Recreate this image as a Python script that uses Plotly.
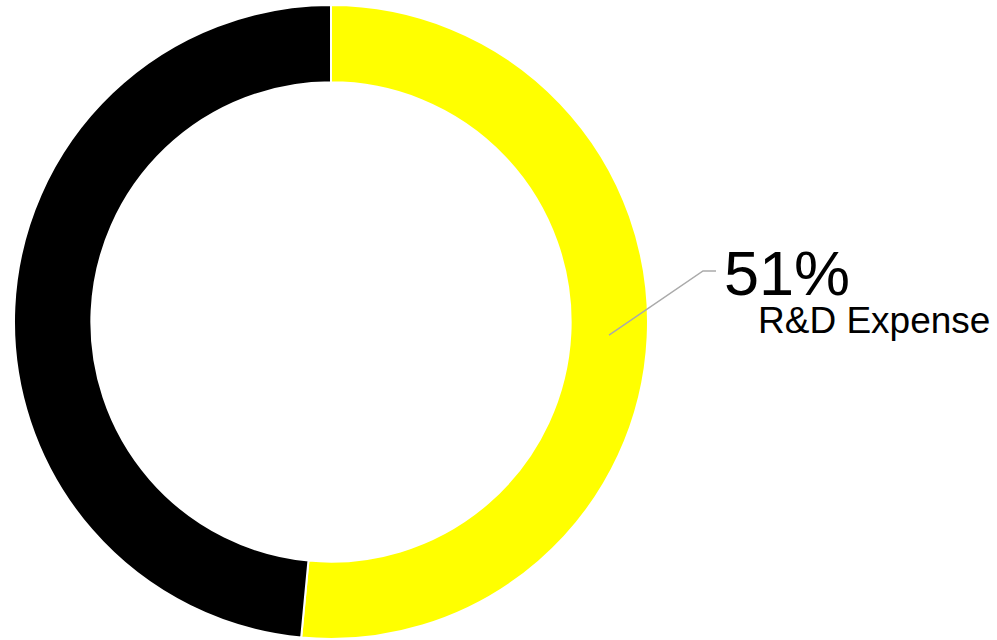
import math
import plotly.graph_objects as go

labels = ["R&D Expense", "Other"]
values = [51.5, 48.5]
colors = ["#ffff00", "#000000"]

W, H = 997, 640
MT, MB = 5, 1
PH = H - MT - MB
dom_x = [0, 662 / W]
hole = 0.756

fig = go.Figure(go.Pie(
    labels=labels, values=values, hole=hole, sort=False,
    direction="clockwise", rotation=0,
    marker=dict(colors=colors, line=dict(color="white", width=2)),
    textinfo="none", hoverinfo="label+percent", showlegend=False,
    domain=dict(x=dom_x, y=[0, 1]),
))

def px2paper(x, y):
    return x / W, 1 - (y - MT) / PH

# leader line start: mid-ring at mid angle of first slice
cx = (dom_x[0] + dom_x[1]) / 2 * W
cy = MT + PH / 2
R = min((dom_x[1] - dom_x[0]) * W, PH) / 2
frac = values[0] / sum(values)
ang = math.radians(90 - 360 * frac / 2)
rm = R * (1 + hole) / 2
sx, sy = cx + rm * math.cos(ang), cy - rm * math.sin(ang)
ex, ey = 703, 271
hx = 716

p0 = px2paper(sx, sy)
p1 = px2paper(ex, ey)
p2 = px2paper(hx, ey)
fig.add_shape(type="path", xref="paper", yref="paper",
              path=f"M {p0[0]},{p0[1]} L {p1[0]},{p1[1]} L {p2[0]},{p2[1]}",
              line=dict(color="#aaaaaa", width=1.5))

pct = f"{int(frac * 100)}%"
a1 = px2paper(722, 273)
a2 = px2paper(756, 320)
fig.add_annotation(x=a1[0], y=a1[1], xref="paper", yref="paper", text=pct,
                   showarrow=False, xanchor="left", yanchor="middle",
                   font=dict(family="Liberation Sans, Arial", size=63, color="black"))
fig.add_annotation(x=a2[0], y=a2[1], xref="paper", yref="paper", text=labels[0],
                   showarrow=False, xanchor="left", yanchor="middle",
                   font=dict(family="Liberation Sans, Arial", size=37, color="black"))

fig.update_layout(width=W, height=H, margin=dict(l=0, r=0, t=MT, b=MB),
                  paper_bgcolor="white", plot_bgcolor="white")
fig.write_html("out.html", config={"displayModeBar": False},
               post_script="document.body.style.margin='0';document.body.style.overflow='hidden';")
